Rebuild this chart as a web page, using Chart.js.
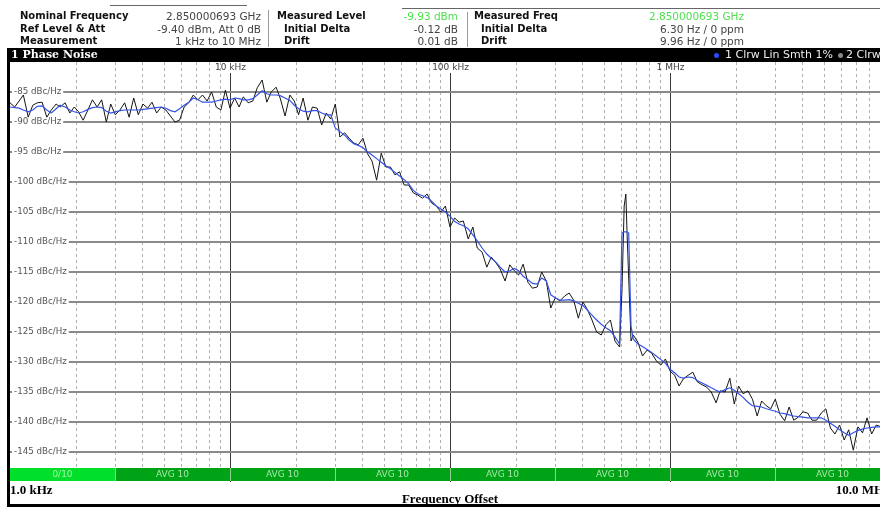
<!DOCTYPE html>
<html>
<head>
<meta charset="utf-8">
<title>Phase Noise</title>
<script src="https://cdn.jsdelivr.net/npm/chart.js@4.4.1/dist/chart.umd.min.js"></script>
<style>
  html, body { margin:0; padding:0; background:#fff; width:880px; height:509px; overflow:hidden; }
  .abs { position:absolute; white-space:nowrap; }
  .hl { font-family:"DejaVu Sans",sans-serif; font-weight:bold; font-size:10px; color:#111; line-height:12px; }
  .hv { font-family:"DejaVu Sans",sans-serif; font-size:10.5px; color:#444; line-height:12px; text-align:right; }
  .green { color:#4ee04e; }
  .sep { position:absolute; width:1px; background:#9a9a9a; }
  .tab { position:absolute; height:1px; background:#666; }
  #plot { position:absolute; left:0; top:0; }
  #titlebar { left:7px; top:48px; width:873px; height:14px; background:#000; }
  #titlebar .name { position:absolute; left:4px; top:0; font:bold 11px "DejaVu Serif",serif; color:#fff; line-height:14px; }
  #titlebar .leg { position:absolute; top:0; font:11px "DejaVu Sans",sans-serif; color:#eee; line-height:14px; }
  .dot { position:absolute; width:5px; height:5px; border-radius:50%; top:4.5px; }
  #lborder { left:7px; top:48px; width:3px; height:459px; background:#000; }
  #bborder { left:7px; top:504px; width:880px; height:3px; background:#000; }
</style>
</head>
<body>
<canvas id="plot" width="900" height="509"></canvas>

<div class="tab" style="left:110px;top:5px;width:137px"></div>
<div class="tab" style="left:402px;top:8px;width:478px"></div>

<div class="abs hl" style="left:20px;top:10px">Nominal Frequency</div>
<div class="abs hl" style="left:20px;top:22.5px">Ref Level &amp; Att</div>
<div class="abs hl" style="left:20px;top:35px">Measurement</div>
<div class="abs hv" style="left:130px;width:131px;top:10px">2.850000693 GHz</div>
<div class="abs hv" style="left:130px;width:131px;top:22.5px">-9.40 dBm, Att 0 dB</div>
<div class="abs hv" style="left:130px;width:131px;top:35px">1 kHz to 10 MHz</div>
<div class="sep" style="left:268px;top:10px;height:37px"></div>

<div class="abs hl" style="left:277px;top:10px">Measured Level</div>
<div class="abs hl" style="left:284px;top:22.5px">Initial Delta</div>
<div class="abs hl" style="left:284px;top:35px">Drift</div>
<div class="abs hv green" style="left:360px;width:98px;top:10px">-9.93 dBm</div>
<div class="abs hv" style="left:360px;width:98px;top:22.5px">-0.12 dB</div>
<div class="abs hv" style="left:360px;width:98px;top:35px">0.01 dB</div>
<div class="sep" style="left:467px;top:12px;height:35px"></div>

<div class="abs hl" style="left:474px;top:10px">Measured Freq</div>
<div class="abs hl" style="left:481px;top:22.5px">Initial Delta</div>
<div class="abs hl" style="left:481px;top:35px">Drift</div>
<div class="abs hv green" style="left:580px;width:164px;top:10px">2.850000693 GHz</div>
<div class="abs hv" style="left:580px;width:164px;top:22.5px">6.30 Hz / 0 ppm</div>
<div class="abs hv" style="left:580px;width:164px;top:35px">9.96 Hz / 0 ppm</div>

<div id="titlebar" class="abs">
  <span class="name">1 Phase Noise</span>
  <span class="dot" style="left:707px;background:#2a4bff"></span>
  <span class="leg" style="left:718px">1 Clrw Lin Smth 1%</span>
  <span class="dot" style="left:831px;background:#888"></span>
  <span class="leg" style="left:839px">2 Clrw</span>
</div>
<div id="lborder" class="abs"></div>
<div id="bborder" class="abs"></div>

<script>
// sweep offsets in kHz, one array per decade (extra points around the spur)
const offKHz1 = [1.00,1.05,1.10,1.15,1.21,1.27,1.33,1.40,1.47,1.54,1.62,1.69,1.78,1.87,1.96,2.05,2.15,2.26,2.37,2.49,2.61,2.74,2.87,3.01,3.16,3.32,3.48,3.65,3.83,4.02,4.22,4.42,4.64,4.87,5.11,5.36,5.62,5.90,6.19,6.49,6.81,7.15,7.50,7.87,8.25,8.66,9.09,9.53];
const offKHz2 = [10.0,10.5,11.0,11.5,12.1,12.7,13.3,14.0,14.7,15.4,16.2,16.9,17.8,18.7,19.6,20.5,21.5,22.6,23.7,24.9,26.1,27.4,28.7,30.1,31.6,33.2,34.8,36.5,38.3,40.2,42.2,44.2,46.4,48.7,51.1,53.6,56.2,59.0,61.9,64.9,68.1,71.5,75.0,78.7,82.5,86.6,90.9,95.3];
const offKHz3 = [100,105,110,115,121,127,133,140,147,154,162,169,178,187,196,205,215,226,237,249,261,274,287,301,316,332,348,365,383,402,422,442,464,487,511,536,562,590,605,619,630,638,649,665,681,715,750,787,825,866,909,953];
const offKHz4 = [1000,1050,1100,1150,1210,1270,1330,1400,1470,1540,1620,1690,1780,1870,1960,2050,2150,2260,2370,2490,2610,2740,2870,3010,3160,3320,3480,3650,3830,4020,4220,4420,4640,4870,5110,5360,5620,5900,6190,6490,6810,7150,7500,7870,8250,8660,9090,9530,10000];

// trace 2: Clrw (raw, black), dBc/Hz
const clrw1 = [-86.8,-87.5,-86.5,-85.5,-89.2,-87.2,-86.8,-86.7,-89.2,-88,-87,-87.5,-86.8,-88.5,-87.5,-88.3,-89.7,-88,-86.3,-87.5,-86.3,-90,-87,-88.8,-88,-86.8,-89.2,-86,-88.8,-87,-87.7,-86.7,-88.5,-87.5,-88,-89,-90,-89.7,-87.5,-86.8,-85.5,-86.3,-85.5,-86.5,-85,-87.5,-88,-84.7];
const clrw2 = [-87.7,-86,-87.5,-85.8,-86.8,-86.5,-84.3,-83,-86.7,-85,-84.2,-86,-89,-85.5,-86.5,-88.8,-86,-89.7,-87.5,-87.7,-90.5,-88.5,-89.5,-87,-92.5,-91.8,-92.7,-93.5,-93.8,-92.7,-95.3,-96.5,-99.7,-95.2,-97.5,-97.5,-98.8,-98.3,-100.5,-100.5,-101.8,-102.2,-102.7,-102,-103.5,-104,-105,-104];
const clrw3 = [-107.5,-106,-106.7,-106.5,-109.5,-107.5,-111,-111.7,-114.2,-112.5,-113.5,-114.5,-116.5,-113.8,-114.8,-115.5,-113.7,-116.7,-117.7,-117.5,-115,-116.5,-121,-119.3,-119.8,-119,-118.5,-119.7,-122.7,-120,-121.3,-123,-125,-125.5,-123.8,-123,-126.5,-127.5,-118,-104,-102,-108.5,-116,-126.5,-125.5,-126.7,-129,-128,-128.5,-129.8,-130.5,-129.5];
const clrw4 = [-131.5,-132.2,-134,-132.8,-132.2,-131.7,-133.3,-133.8,-134.2,-135,-136.8,-134.8,-135,-132.7,-137,-134,-135.3,-134.8,-136.2,-139,-136.5,-137.3,-137.8,-136.2,-138.7,-139.8,-137.5,-139.7,-139.2,-138.3,-138.5,-139.7,-139.7,-138.5,-137.8,-141,-142,-140.5,-143,-141.3,-144.7,-140.8,-141.8,-139.3,-142,-140.5,-140.8,-141,-140.5];

// trace 1: Clrw Lin Smth 1% (blue), dBc/Hz
const smth1 = [-87.5,-87.6,-87.7,-88,-88.3,-88,-87.4,-87.3,-88,-88.5,-87.8,-87.2,-87.5,-88,-88.3,-88.5,-88.3,-87.9,-87.6,-87.5,-87.6,-88.2,-88.5,-88.3,-88.1,-88,-88,-88,-88,-87.9,-87.8,-87.7,-87.6,-87.5,-87.7,-88.1,-88.3,-87.8,-87.2,-86.7,-86,-86.3,-86.7,-86.7,-86.7,-86.5,-86.3,-86.2];
const smth2 = [-86.3,-86,-86.1,-86.3,-86.3,-86.1,-85.5,-84.8,-85.3,-85.5,-85.5,-85.6,-86,-86.4,-87.2,-87.8,-88.2,-88.3,-88.1,-88.1,-88.5,-88.8,-88.8,-91,-91.6,-92.2,-93,-93.6,-93.9,-94.3,-95,-95.5,-96.1,-96.7,-97.3,-97.8,-98.4,-99,-99.6,-100.3,-101.4,-102,-102.3,-102.6,-103.2,-104,-104.5,-105];
const smth3 = [-105.7,-106.6,-107,-107.3,-107.8,-108.8,-109.8,-111,-112,-112.7,-113.4,-114.2,-115,-114.8,-114.4,-114.8,-115.7,-116.3,-116.9,-117,-116,-116.5,-118.8,-119.3,-119.7,-119.7,-119.6,-119.8,-120.2,-120.6,-121.4,-122.2,-123,-123.7,-124.3,-124.8,-125.8,-127,-108.5,-108.3,-108.3,-108.3,-108.5,-124,-126.2,-127,-127.4,-127.9,-128.4,-129,-129.6,-130.2];
const smth4 = [-131.2,-131.8,-132.5,-132.7,-132.5,-132.6,-133.1,-133.5,-133.9,-134.3,-134.7,-135,-134.6,-134.3,-134.7,-135.3,-135.9,-136.7,-137.3,-137.4,-137.5,-137.8,-138,-138.2,-138.5,-138.6,-138.8,-139,-139.1,-139.2,-139.3,-139.3,-139.3,-139.3,-139.7,-140.2,-140.7,-141.3,-141.8,-142.2,-141.8,-141.4,-141.2,-141,-140.9,-140.8,-140.8,-140.8,-140.7];

// axes
const levelTicks = [-85,-90,-95,-100,-105,-110,-115,-120,-125,-130,-135,-140,-145];
const decadeTicks = [10, 100, 1000];
const decadeLabels = ['10 kHz', '100 kHz', '1 MHz'];
const decadeStarts = [1, 10, 100, 1000];
const minorSteps = [2, 3, 4, 5, 6, 7, 8, 9];
const edgeTicks = [1, 10000];
const edgeLabels = ['1.0 kHz', '10.0 MHz'];

// status bar under the trace
const statusEdges = [1, 3, 10, 30, 100, 300, 1000, 3000, 10000];
const statusLabels = ['0/10', 'AVG 10', 'AVG 10', 'AVG 10', 'AVG 10', 'AVG 10', 'AVG 10', 'AVG 10'];

const offsets = [...offKHz1, ...offKHz2, ...offKHz3, ...offKHz4];
const clrw = [...clrw1, ...clrw2, ...clrw3, ...clrw4];
const smth = [...smth1, ...smth2, ...smth3, ...smth4];
const toPts = ys => offsets.map((f, i) => ({ x: f, y: ys[i] }));

// vertical grid: dashed minors, solid decades with their labels
const decadeGrid = {
  id: 'decadeGrid',
  beforeDraw(chart) {
    const { ctx, chartArea: a, scales: { x } } = chart;
    ctx.save();
    ctx.lineWidth = 1;
    ctx.strokeStyle = '#b0b0b0';
    ctx.setLineDash([3, 3]);
    decadeStarts.forEach(d => minorSteps.forEach(m => {
      const px = Math.round(x.getPixelForValue(d * m)) + 0.5;
      ctx.beginPath(); ctx.moveTo(px, a.top); ctx.lineTo(px, a.bottom); ctx.stroke();
    }));
    ctx.setLineDash([]);
    ctx.strokeStyle = '#3a3a3a';
    ctx.fillStyle = '#444';
    ctx.font = '9px "DejaVu Sans"';
    ctx.textAlign = 'center';
    ctx.textBaseline = 'middle';
    decadeTicks.forEach((v, i) => {
      const px = Math.round(x.getPixelForValue(v)) + 0.5;
      ctx.beginPath(); ctx.moveTo(px, a.top + 11); ctx.lineTo(px, a.bottom); ctx.stroke();
      ctx.fillText(decadeLabels[i], px, a.top + 6);
    });
    ctx.restore();
  }
};

const statusBar = {
  id: 'statusBar',
  afterDraw(chart) {
    const { ctx, chartArea: a, scales: { x } } = chart;
    const top = a.bottom - 14, h = 13;
    ctx.save();
    ctx.font = '9px "DejaVu Sans"';
    ctx.textAlign = 'center';
    ctx.textBaseline = 'middle';
    for (let i = 0; i < statusLabels.length; i++) {
      const l = x.getPixelForValue(statusEdges[i]), r = x.getPixelForValue(statusEdges[i + 1]);
      ctx.fillStyle = i === 0 ? '#00e02a' : '#00a316';
      ctx.fillRect(l, top, r - l, h);
      ctx.fillStyle = i === 0 ? '#a8f5a8' : '#a9e6a9';
      ctx.fillText(statusLabels[i], (l + r) / 2, top + h / 2 + 0.5);
      if (i > 0) { ctx.fillStyle = '#8fcf8f'; ctx.fillRect(Math.round(l), top, 1, h); }
    }
    ctx.restore();
  }
};

new Chart(document.getElementById('plot'), {
  type: 'line',
  data: {
    datasets: [
      { label: '1 Clrw Lin Smth 1%', data: toPts(smth), borderColor: '#3553e8', borderWidth: 1.2, pointRadius: 0, tension: 0, order: 0 },
      { label: '2 Clrw', data: toPts(clrw), borderColor: '#151515', borderWidth: 1, pointRadius: 0, tension: 0, order: 1 }
    ]
  },
  options: {
    responsive: false,
    animation: false,
    events: [],
    layout: { padding: { top: 62, right: 10, bottom: 2, left: 0 } },
    plugins: { legend: { display: false }, tooltip: { enabled: false } },
    scales: {
      x: {
        type: 'logarithmic', min: 1, max: 10000, position: 'bottom',
        grid: { display: false, drawTicks: false },
        border: { display: false },
        afterBuildTicks: s => { s.ticks = edgeTicks.map(v => ({ value: v })); },
        afterFit: s => { s.height = 25; },
        ticks: {
          align: 'inner', padding: 1, autoSkip: false, maxRotation: 0, color: '#000',
          font: { family: 'Liberation Serif', size: 13, weight: 'bold' },
          callback: (v, i) => edgeLabels[i]
        },
        title: {
          display: true, text: 'Frequency Offset', color: '#000',
          font: { family: 'Liberation Serif', size: 13, weight: 'bold' },
          padding: { top: 0, bottom: 0 }
        }
      },
      y: {
        min: -150, max: -80, position: 'left',
        afterFit: s => { s.width = 10; },
        afterBuildTicks: s => { s.ticks = levelTicks.map(v => ({ value: v })); },
        grid: { drawTicks: false, color: '#8a8a8a', lineWidth: 2 },
        border: { display: false },
        ticks: {
          mirror: true, padding: 4, color: '#555',
          font: { family: 'DejaVu Sans', size: 8.7 },
          callback: v => v + ' dBc/Hz',
          showLabelBackdrop: true, backdropColor: '#fff',
          backdropPadding: { top: 0, bottom: 0, left: 2, right: 2 }
        }
      }
    }
  },
  plugins: [decadeGrid, statusBar]
});
</script>
</body>
</html>
